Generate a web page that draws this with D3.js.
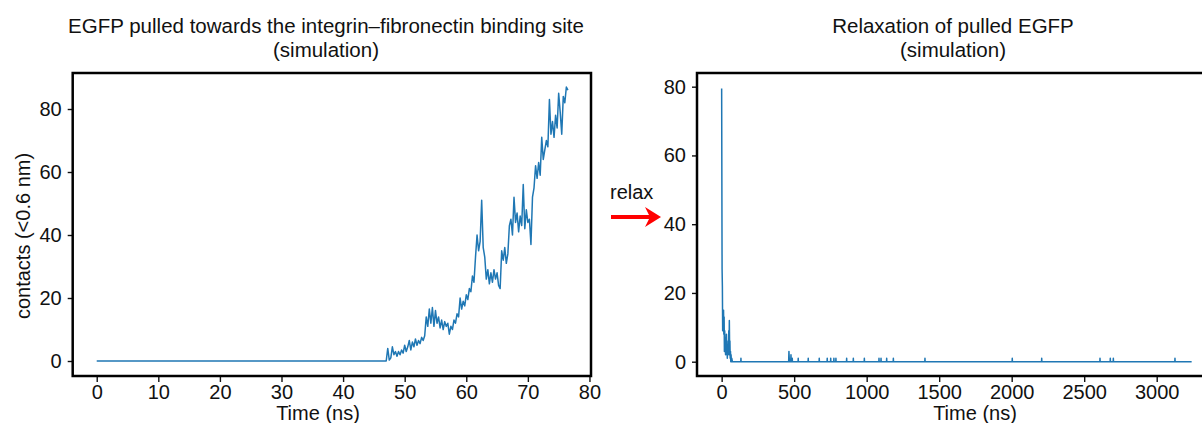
<!DOCTYPE html>
<html>
<head>
<meta charset="utf-8">
<script src="https://cdn.jsdelivr.net/npm/d3@7"></script>
<style>
    body { margin: 0; background: #fff; }
    text { font-family: "Liberation Sans", Arial, sans-serif; fill: #111; }
</style>
</head>
<body>
<script>
const panel_width = 1202;
const panel_height = 423;

// [time (ns), contacts]
const pulledContacts = [
    [0, 0], [47.0, 0], [47.25, 4], [47.5, 0.3], [47.75, 1], [48.0, 4.5], [48.25, 2], [48.5, 3],
    [48.75, 1.5], [49.0, 3], [49.25, 2], [49.5, 3.5], [49.75, 2.5], [50.0, 5], [50.25, 3],
    [50.5, 4.5], [50.75, 6.5], [51.0, 3.5], [51.25, 6], [51.5, 4.5], [51.75, 7], [52.0, 5],
    [52.25, 6.5], [52.5, 5.5], [52.75, 7.5], [53.0, 6.5], [53.25, 8], [53.5, 14], [53.75, 11],
    [54.0, 16.5], [54.25, 12], [54.5, 17], [54.75, 11], [55.0, 16], [55.25, 12], [55.5, 14],
    [55.75, 10.5], [56.0, 13], [56.25, 10], [56.5, 12.5], [56.75, 11], [57.0, 12], [57.25, 8.5],
    [57.5, 11], [57.75, 10], [58.0, 13], [58.25, 12], [58.5, 15], [58.75, 14], [59.0, 20],
    [59.25, 16.5], [59.5, 19], [59.75, 17.5], [60.0, 21], [60.25, 19.5], [60.5, 23], [60.75, 22],
    [61.0, 27], [61.25, 25], [61.5, 33], [61.75, 40], [62.0, 35], [62.25, 38], [62.5, 51],
    [62.75, 36], [63.0, 33], [63.25, 26], [63.5, 29], [63.75, 24.5], [64.0, 28], [64.25, 25],
    [64.5, 29], [64.75, 26], [65.0, 28], [65.25, 24], [65.5, 23], [65.75, 35], [66.0, 32],
    [66.25, 36], [66.5, 31], [66.75, 34], [67.0, 43], [67.25, 45], [67.5, 40], [67.75, 52],
    [68.0, 44], [68.25, 47], [68.5, 41], [68.75, 46], [69.0, 43], [69.25, 56], [69.5, 42],
    [69.75, 48], [70.0, 44], [70.25, 45], [70.5, 37], [70.75, 52], [71.0, 55], [71.25, 62],
    [71.5, 58], [71.75, 63], [72.0, 59], [72.25, 71], [72.5, 64], [72.75, 67], [73.0, 70],
    [73.25, 68], [73.5, 83], [73.75, 72], [74.0, 76], [74.25, 71], [74.5, 78], [74.75, 74],
    [75.0, 85], [75.25, 79], [75.5, 72], [75.75, 84], [76.0, 82], [76.25, 87], [76.5, 86]
];

// [time (ns), contacts]
const relaxContacts = [
    [0, 79.5], [3, 27], [5, 22], [7, 9], [9, 15], [11, 10], [13, 15], [15, 8], [17, 13],
    [19, 3], [21, 9], [23, 5], [25, 7], [27, 2], [29, 6], [31, 3], [33, 8], [35, 2], [37, 5],
    [39, 1], [41, 4], [43, 2], [45, 6], [47, 3], [49, 9], [51, 2], [53, 12], [55, 4], [57, 6],
    [59, 1], [61, 3], [63, 0], [65, 2], [67, 0], [70, 1], [74, 0],
    [132, 0], [133, 1], [134, 0], [462, 0], [464, 3], [467, 0], [476, 0], [478, 2], [480, 0],
    [486, 0], [487, 1], [488, 0], [527, 0], [528, 1], [529, 0], [596, 0], [597, 1], [598, 0],
    [672, 0], [673, 1], [674, 0], [727, 0], [728, 1], [729, 0], [751, 0], [752, 1], [753, 0],
    [773, 0], [774, 1], [775, 0], [787, 0], [788, 1], [789, 0], [861, 0], [862, 1], [863, 0],
    [907, 0], [908, 1], [909, 0], [983, 0], [984, 1], [985, 0], [1084, 0], [1085, 1], [1086, 0],
    [1098, 0], [1099, 1], [1100, 0], [1137, 0], [1138, 1], [1139, 0], [1183, 0], [1184, 1],
    [1185, 0], [1401, 0], [1402, 1], [1403, 0], [2003, 0], [2004, 1], [2005, 0], [2206, 0],
    [2207, 1], [2208, 0], [2608, 0], [2609, 1], [2610, 0], [2679, 0], [2680, 1], [2681, 0],
    [2700, 0], [2701, 1], [2702, 0], [3125, 0], [3126, 1], [3127, 0], [3241, 0]
];

const pulledXTicks = [0, 10, 20, 30, 40, 50, 60, 70, 80];
const relaxXTicks = [0, 500, 1000, 1500, 2000, 2500, 3000];
const yTicks = [0, 20, 40, 60, 80];

const titles = [
    ["EGFP pulled towards the integrin\u2013fibronectin binding site", "(simulation)"],
    ["Relaxation of pulled EGFP", "(simulation)"]
];

window.addEventListener("load", makeFigure);

function drawPanel(svg, opts) {
    const x = d3.scaleLinear().domain(opts.xDomain).range([opts.left, opts.right]);
    const y = d3.scaleLinear().domain(opts.yDomain).range([opts.bottom, opts.top]);

    const g = svg.append("g");

    const xAxis = g.append("g")
        .attr("transform", `translate(0,${opts.bottom})`)
        .call(d3.axisBottom(x).tickValues(opts.xTicks).tickFormat(d3.format("d"))
            .tickSize(6).tickSizeOuter(0).tickPadding(3));
    const yAxis = g.append("g")
        .attr("transform", `translate(${opts.left},0)`)
        .call(d3.axisLeft(y).tickValues(yTicks).tickFormat(d3.format("d"))
            .tickSize(5).tickSizeOuter(0).tickPadding(6));

    [xAxis, yAxis].forEach(a => {
        a.select(".domain").remove();
        a.selectAll(".tick line").attr("stroke", "#111").attr("stroke-width", 1.4);
        a.selectAll(".tick text")
            .attr("font-size", "20px")
            .attr("fill", "#111")
            .style("font-family", "'Liberation Sans', Arial, sans-serif");
    });

    const line = d3.line().x(d => x(d[0])).y(d => y(d[1]));

    g.append("path")
        .datum(opts.data)
        .attr("fill", "none")
        .attr("stroke", "#1f77b4")
        .attr("stroke-width", 1.5)
        .attr("stroke-linejoin", "round")
        .attr("d", line);

    g.append("rect") // frame
        .attr("x", opts.left)
        .attr("y", opts.top)
        .attr("width", opts.right - opts.left)
        .attr("height", opts.bottom - opts.top)
        .attr("fill", "none")
        .attr("stroke", "#000")
        .attr("stroke-width", 2.5);

    opts.title.forEach((t, i) => {
        g.append("text")
            .attr("x", opts.titleX)
            .attr("y", 33 + i * 24)
            .attr("text-anchor", "middle")
            .attr("font-size", "20.5px")
            .text(t);
    });

    g.append("text")
        .attr("x", opts.xLabelX)
        .attr("y", 420)
        .attr("text-anchor", "middle")
        .attr("font-size", "20px")
        .text("Time (ns)");
}

function makeFigure() {
    const svg = d3.select("body")
        .append("svg")
        .attr("width", panel_width)
        .attr("height", panel_height);

    drawPanel(svg, {
        data: pulledContacts,
        xDomain: [-3.9, 80.25], yDomain: [-4.76, 91.43],
        left: 72.7, right: 591, top: 73, bottom: 376,
        xTicks: pulledXTicks, title: titles[0], titleX: 326, xLabelX: 318
    });

    drawPanel(svg, {
        data: relaxContacts,
        xDomain: [-170, 3402], yDomain: [-4.16, 83.98],
        left: 697, right: 1215, top: 73, bottom: 376,
        xTicks: relaxXTicks, title: titles[1], titleX: 953, xLabelX: 975
    });

    svg.append("text")
        .attr("transform", "translate(30,236) rotate(-90)")
        .attr("text-anchor", "middle")
        .attr("font-size", "20px")
        .text("contacts (<0.6 nm)");

    svg.append("text")
        .attr("x", 610)
        .attr("y", 199)
        .attr("font-size", "20px")
        .text("relax");

    svg.append("line") // red arrow
        .attr("x1", 611).attr("y1", 217)
        .attr("x2", 652).attr("y2", 217)
        .attr("stroke", "#ff0000")
        .attr("stroke-width", 4);
    svg.append("path")
        .attr("d", "M661,217 L645,207 L650,217 L645,227 Z")
        .attr("fill", "#ff0000");
}
</script>
</body>
</html>
